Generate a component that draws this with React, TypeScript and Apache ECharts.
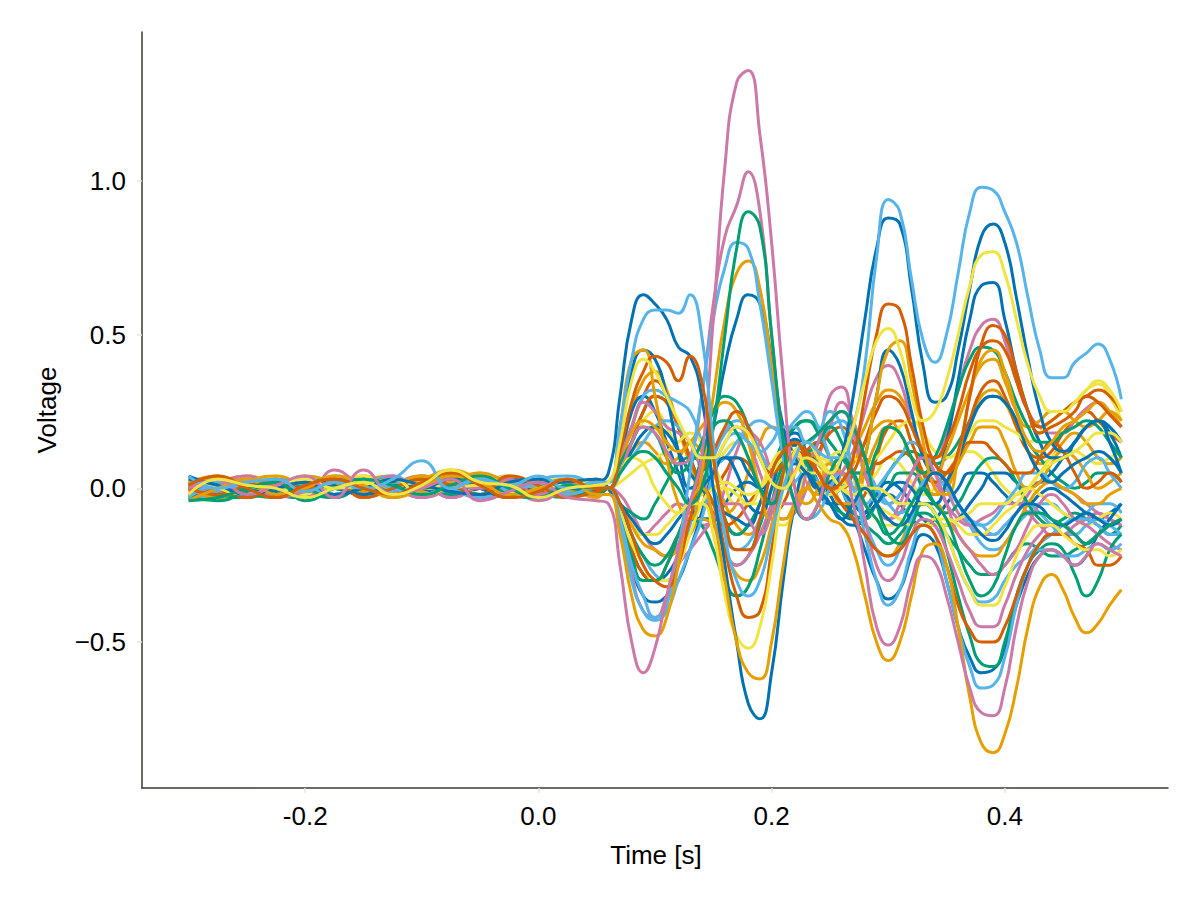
import React, { useEffect, useRef } from "react";
import * as echarts from "echarts";

// time grid (s)
const times = [
  -0.3, -0.275, -0.25, -0.225, -0.2, -0.175, -0.15, -0.125, -0.1, -0.075, -0.05, -0.025, 0.0, 0.025, 0.05,
  0.06, 0.07, 0.08, 0.09, 0.1, 0.11, 0.12, 0.13, 0.14, 0.15,
  0.16, 0.17, 0.18, 0.19, 0.2, 0.21, 0.22, 0.23, 0.24, 0.25,
  0.26, 0.27, 0.28, 0.29, 0.3, 0.31, 0.32, 0.33, 0.34, 0.35,
  0.36, 0.37, 0.38, 0.39, 0.4, 0.41, 0.42, 0.43, 0.44, 0.45,
  0.46, 0.47, 0.48, 0.49, 0.5,
];

const xTicks = [-0.2, 0.0, 0.2, 0.4];
const yTicks = [-0.5, 0.0, 0.5, 1.0];

// channel voltages
const blueA = [0.03, 0.01, -0.02, 0.0, 0.02, -0.02, 0.0, 0.03, 0.01, -0.01, -0.02, 0.02, 0.03, 0.0, 0.02,
  0.05, 0.3, 0.55, 0.63, 0.6, 0.55, 0.46, 0.43, 0.3, 0.0,
  -0.25, -0.5, -0.7, -0.75, -0.6, -0.3, -0.05, 0.05, 0.0, -0.05,
  -0.1, -0.05, 0.0, -0.05, -0.1, -0.12, -0.08, 0.0, 0.05, 0.02,
  -0.05, -0.1, -0.15, -0.17, -0.14, -0.08, -0.05, -0.06, -0.1, -0.12,
  -0.1, -0.08, -0.1, -0.12, -0.1];
const orangeA = [-0.04, 0.0, 0.03, -0.02, 0.0, 0.04, 0.01, -0.03, 0.0, 0.04, 0.02, -0.02, 0.0, 0.03, -0.02,
  -0.02, -0.15, -0.35, -0.46, -0.48, -0.42, -0.25, -0.05, 0.0, -0.1,
  -0.3, -0.5, -0.6, -0.62, -0.5, -0.25, -0.05, 0.0, -0.05, -0.1,
  -0.12, -0.2, -0.35, -0.5, -0.56, -0.5, -0.35, -0.2, -0.18, -0.25,
  -0.45, -0.68, -0.83, -0.86, -0.8, -0.65, -0.45, -0.32, -0.28, -0.33,
  -0.42, -0.47, -0.44, -0.38, -0.33];
const greenA = [-0.04, -0.03, 0.0, 0.02, -0.04, 0.0, 0.03, 0.01, -0.02, 0.01, 0.04, 0.0, -0.03, 0.01, 0.0,
  0.0, 0.05, 0.1, 0.12, 0.1, 0.05, 0.0, -0.05, 0.0, 0.2,
  0.5, 0.78, 0.9, 0.85, 0.5, 0.15, -0.05, -0.1, -0.05, 0.05,
  0.1, 0.05, -0.05, -0.1, -0.15, -0.12, -0.05, 0.0, -0.05, -0.1,
  -0.2, -0.3, -0.35, -0.32, -0.22, -0.12, -0.08, -0.08, -0.1, -0.12,
  -0.15, -0.18, -0.15, -0.12, -0.1];
const pinkA = [0.0, 0.03, -0.02, 0.01, 0.04, -0.03, 0.06, -0.02, 0.0, 0.03, -0.04, -0.01, 0.02, -0.03, -0.04,
  -0.05, -0.25, -0.5, -0.6, -0.52, -0.35, -0.2, -0.05, 0.1, 0.55,
  1.05, 1.32, 1.36, 1.15, 0.8, 0.35, 0.0, -0.1, -0.05, 0.05,
  0.05, -0.05, -0.25, -0.45, -0.51, -0.45, -0.3, -0.22, -0.24, -0.35,
  -0.5, -0.65, -0.73, -0.74, -0.65, -0.45, -0.3, -0.22, -0.2, -0.22,
  -0.25, -0.22, -0.18, -0.2, -0.22];
const lightBlueA = [0.04, 0.0, 0.02, 0.03, -0.01, 0.02, 0.0, 0.03, 0.09, 0.0, 0.03, 0.01, 0.04, 0.0, 0.02,
  0.02, 0.2, 0.42, 0.55, 0.58, 0.58, 0.57, 0.63, 0.5, 0.15,
  -0.15, -0.3, -0.35, -0.3, -0.15, 0.0, 0.1, 0.15, 0.12, 0.1,
  0.1, 0.2, 0.4, 0.75, 0.94, 0.9, 0.68, 0.48, 0.41, 0.5,
  0.7, 0.9, 0.98, 0.97, 0.9, 0.8, 0.62, 0.45, 0.36, 0.36,
  0.41, 0.44, 0.47, 0.42, 0.29];
const vermA = [0.01, 0.04, 0.0, -0.03, 0.01, 0.03, 0.0, -0.02, 0.02, 0.05, 0.01, -0.03, -0.01, 0.03, 0.0,
  0.0, 0.12, 0.28, 0.38, 0.43, 0.41, 0.35, 0.43, 0.35, 0.1,
  -0.1, -0.2, -0.2, -0.1, 0.05, 0.12, 0.15, 0.1, 0.05, 0.0,
  0.02, 0.1, 0.3, 0.5, 0.6, 0.58, 0.4, 0.2, 0.08, 0.05,
  0.12, 0.3, 0.47, 0.53, 0.5, 0.38, 0.25, 0.18, 0.2, 0.22,
  0.25, 0.3, 0.28, 0.24, 0.2];
const yellowA = [-0.02, 0.03, 0.01, 0.0, -0.03, 0.0, 0.02, -0.02, 0.01, 0.06, 0.02, 0.01, -0.03, 0.0, 0.01,
  0.02, 0.15, 0.35, 0.42, 0.38, 0.3, 0.22, 0.15, 0.1, 0.1,
  0.15, 0.2, 0.18, 0.1, 0.02, 0.0, 0.05, 0.1, 0.08, 0.05,
  0.1, 0.2, 0.35, 0.48, 0.52, 0.45, 0.3, 0.22, 0.25, 0.35,
  0.5, 0.66, 0.76, 0.77, 0.7, 0.55, 0.4, 0.3, 0.25, 0.25,
  0.28, 0.32, 0.35, 0.32, 0.25];

const blueB = [0.04, 0.01, 0.0, -0.03, 0.01, 0.0, -0.02, 0.01, 0.0, 0.03, 0.0, -0.03, 0.01, 0.02, 0.03,
  0.0, -0.05, -0.1, -0.15, -0.18, -0.15, -0.1, -0.05, 0.0, 0.05,
  0.1, 0.1, 0.05, 0.0, -0.05, 0.0, 0.08, 0.05, 0.0, 0.0,
  0.1, 0.3, 0.55, 0.78, 0.88, 0.86, 0.65, 0.4, 0.28, 0.3,
  0.45, 0.65, 0.82, 0.86, 0.8, 0.62, 0.42, 0.25, 0.15, 0.12,
  0.15, 0.2, 0.22, 0.15, 0.05];
const orangeB = [0.01, -0.03, 0.02, 0.04, 0.0, -0.02, 0.03, 0.0, 0.04, 0.01, 0.05, 0.02, 0.0, -0.02, 0.02,
  0.02, 0.2, 0.42, 0.45, 0.3, 0.1, -0.05, -0.1, 0.05, 0.3,
  0.55, 0.7, 0.74, 0.65, 0.4, 0.15, 0.0, -0.05, 0.0, 0.08,
  0.05, 0.0, 0.1, 0.3, 0.45, 0.48, 0.35, 0.15, 0.0, -0.02,
  0.1, 0.3, 0.42, 0.45, 0.38, 0.25, 0.15, 0.12, 0.15, 0.2,
  0.22, 0.25, 0.28, 0.25, 0.2];
const greenB = [-0.03, -0.04, -0.01, 0.02, 0.0, -0.03, 0.01, 0.03, -0.02, 0.0, 0.02, -0.02, -0.03, 0.0, -0.02,
  0.0, -0.1, -0.22, -0.3, -0.3, -0.25, -0.15, -0.05, 0.1, 0.2,
  0.22, 0.18, 0.1, 0.0, -0.05, 0.05, 0.12, 0.15, 0.18, 0.22,
  0.25, 0.2, 0.1, -0.05, -0.15, -0.18, -0.12, -0.05, -0.08, -0.2,
  -0.35, -0.48, -0.57, -0.58, -0.5, -0.35, -0.25, -0.2, -0.18, -0.2,
  -0.28, -0.35, -0.3, -0.2, -0.15];
const pinkB = [0.01, 0.0, 0.03, -0.03, -0.01, 0.02, 0.0, 0.04, -0.03, 0.01, 0.0, 0.03, -0.02, 0.01, 0.0,
  0.0, 0.05, 0.15, 0.2, 0.18, 0.12, 0.08, 0.1, 0.3, 0.6,
  0.82, 0.92, 1.03, 0.9, 0.5, 0.15, -0.05, -0.1, -0.05, 0.05,
  0.1, 0.05, -0.1, -0.25, -0.3, -0.25, -0.15, -0.1, -0.12, -0.2,
  -0.3, -0.4, -0.45, -0.45, -0.38, -0.28, -0.2, -0.15, -0.12, -0.12,
  -0.15, -0.18, -0.15, -0.12, -0.1];
const lightBlueB = [-0.03, 0.01, 0.0, 0.03, 0.01, -0.02, 0.03, 0.0, -0.02, 0.01, 0.03, 0.0, 0.01, -0.02, 0.0,
  0.0, -0.1, -0.25, -0.35, -0.42, -0.38, -0.2, 0.05, 0.3, 0.55,
  0.72, 0.8, 0.78, 0.6, 0.35, 0.1, -0.05, -0.1, -0.08, 0.0,
  0.05, 0.0, -0.15, -0.3, -0.38, -0.33, -0.2, -0.12, -0.15, -0.3,
  -0.45, -0.58, -0.65, -0.64, -0.55, -0.38, -0.25, -0.2, -0.2, -0.22,
  -0.22, -0.2, -0.18, -0.2, -0.18];
const vermB = [0.0, -0.02, 0.01, 0.03, 0.0, 0.02, -0.03, 0.0, 0.03, 0.01, -0.02, 0.04, 0.01, -0.03, -0.01,
  0.0, -0.05, -0.15, -0.25, -0.3, -0.32, -0.25, -0.1, 0.0, -0.05,
  -0.2, -0.35, -0.42, -0.4, -0.2, 0.05, 0.15, 0.12, 0.05, 0.0,
  -0.05, -0.1, -0.15, -0.2, -0.22, -0.2, -0.15, -0.12, -0.15, -0.25,
  -0.38, -0.46, -0.5, -0.5, -0.45, -0.35, -0.25, -0.18, -0.15, -0.15,
  -0.18, -0.2, -0.25, -0.25, -0.22];
const yellowB = [0.03, 0.0, -0.02, 0.01, 0.03, 0.0, 0.01, 0.03, -0.02, 0.0, 0.01, -0.03, 0.0, 0.01, 0.0,
  0.0, 0.05, 0.1, 0.08, 0.0, -0.05, -0.08, -0.05, -0.05, -0.15,
  -0.35, -0.48, -0.52, -0.45, -0.25, 0.0, 0.12, 0.15, 0.1, 0.05,
  0.0, -0.02, 0.0, 0.0, -0.02, -0.05, -0.05, -0.05, -0.08, -0.15,
  -0.25, -0.33, -0.38, -0.38, -0.32, -0.22, -0.15, -0.12, -0.12, -0.15,
  -0.18, -0.2, -0.2, -0.22, -0.2];

const blueC = [0.0, 0.03, 0.01, -0.02, 0.0, 0.03, 0.01, 0.0, -0.03, 0.01, 0.0, 0.03, 0.0, -0.02, 0.01,
  0.0, 0.15, 0.38, 0.45, 0.42, 0.3, 0.12, 0.0, 0.05, 0.2,
  0.4, 0.55, 0.63, 0.6, 0.42, 0.2, 0.1, 0.05, 0.0, 0.02,
  0.05, 0.0, 0.1, 0.3, 0.45, 0.4, 0.25, 0.1, 0.05, 0.15,
  0.35, 0.55, 0.66, 0.67, 0.55, 0.38, 0.25, 0.15, 0.1, 0.1,
  0.15, 0.2, 0.22, 0.18, 0.1];
const orangeC = [0.02, 0.04, 0.0, 0.01, 0.04, 0.02, -0.01, 0.01, 0.03, 0.06, 0.03, 0.0, 0.02, 0.01, 0.01,
  0.0, 0.08, 0.18, 0.22, 0.2, 0.15, 0.12, 0.15, 0.2, 0.25,
  0.28, 0.25, 0.15, 0.0, -0.1, -0.1, -0.05, 0.0, 0.02, 0.0,
  -0.05, -0.05, 0.05, 0.15, 0.2, 0.18, 0.1, 0.05, 0.05, 0.12,
  0.22, 0.32, 0.4, 0.42, 0.35, 0.25, 0.2, 0.22, 0.25, 0.25,
  0.22, 0.2, 0.22, 0.25, 0.22];
const greenC = [0.01, -0.02, -0.03, 0.0, 0.02, 0.03, 0.0, -0.02, 0.01, 0.04, 0.0, 0.01, 0.03, 0.0, 0.01,
  0.0, 0.08, 0.15, 0.2, 0.18, 0.1, 0.05, 0.08, 0.15, 0.25,
  0.3, 0.28, 0.2, 0.1, 0.05, 0.1, 0.15, 0.12, 0.15, 0.2,
  0.15, 0.05, 0.05, 0.12, 0.2, 0.18, 0.1, 0.05, 0.1, 0.2,
  0.32, 0.42, 0.46, 0.45, 0.38, 0.28, 0.2, 0.15, 0.15, 0.18,
  0.2, 0.22, 0.2, 0.15, 0.1];
const pinkC = [-0.02, 0.01, 0.04, 0.0, -0.03, 0.06, 0.01, 0.0, -0.03, 0.0, 0.03, 0.01, -0.04, 0.0, 0.02,
  0.0, -0.1, -0.28, -0.4, -0.42, -0.35, -0.25, -0.2, -0.15, -0.1,
  -0.05, -0.05, -0.1, -0.15, -0.08, 0.05, 0.12, 0.1, 0.15, 0.3,
  0.33, 0.2, 0.05, -0.05, -0.1, -0.05, 0.05, 0.1, 0.05, -0.05,
  -0.15, -0.2, -0.25, -0.28, -0.25, -0.2, -0.12, -0.05, -0.02, -0.05,
  -0.1, -0.12, -0.15, -0.18, -0.2];
const lightBlueC = [-0.04, -0.01, 0.02, 0.0, 0.03, -0.02, 0.0, 0.01, 0.03, 0.0, -0.03, 0.0, 0.01, 0.03, 0.01,
  0.0, -0.12, -0.3, -0.4, -0.43, -0.4, -0.3, -0.2, -0.1, 0.05,
  0.15, 0.18, 0.15, 0.12, 0.15, 0.2, 0.2, 0.15, 0.18, 0.25,
  0.2, 0.05, -0.1, -0.2, -0.25, -0.2, -0.1, -0.05, -0.08, -0.15,
  -0.25, -0.33, -0.37, -0.36, -0.3, -0.25, -0.22, -0.18, -0.15, -0.12,
  -0.1, -0.1, -0.12, -0.15, -0.15];
const vermC = [0.03, 0.0, -0.03, 0.01, 0.0, 0.04, 0.01, -0.02, 0.0, 0.03, 0.0, 0.01, -0.02, 0.0, 0.03,
  0.0, -0.08, -0.2, -0.28, -0.3, -0.25, -0.15, -0.05, 0.05, 0.12,
  0.2, 0.25, 0.2, 0.1, 0.05, 0.08, 0.12, 0.1, 0.05, 0.0,
  0.0, 0.05, 0.15, 0.25, 0.3, 0.28, 0.2, 0.12, 0.1, 0.15,
  0.25, 0.38, 0.46, 0.48, 0.45, 0.35, 0.25, 0.2, 0.22, 0.25,
  0.28, 0.3, 0.32, 0.3, 0.25];
const yellowC = [0.01, 0.03, 0.0, 0.04, 0.01, 0.0, 0.03, 0.01, 0.0, 0.01, 0.04, 0.02, 0.0, 0.03, 0.01,
  0.0, -0.08, -0.18, -0.25, -0.3, -0.3, -0.25, -0.15, -0.05, 0.0,
  0.02, 0.0, -0.02, 0.0, 0.05, 0.1, 0.12, 0.05, 0.0, -0.02,
  0.0, 0.02, 0.0, -0.05, -0.08, -0.1, -0.12, -0.12, -0.1, -0.1,
  -0.12, -0.15, -0.15, -0.12, -0.08, -0.05, 0.0, 0.05, 0.08, 0.1,
  0.12, 0.15, 0.18, 0.18, 0.15];

const blueD = [-0.02, 0.0, 0.03, 0.01, -0.02, 0.0, 0.02, -0.03, 0.0, 0.01, -0.02, 0.0, 0.03, 0.01, 0.0,
  0.0, -0.1, -0.25, -0.35, -0.37, -0.35, -0.3, -0.2, -0.08, 0.05,
  0.1, 0.05, -0.05, -0.08, 0.0, 0.12, 0.16, 0.1, 0.0, -0.05,
  -0.05, -0.1, -0.2, -0.3, -0.36, -0.33, -0.22, -0.15, -0.18, -0.3,
  -0.45, -0.55, -0.6, -0.59, -0.52, -0.38, -0.28, -0.22, -0.2, -0.22,
  -0.25, -0.22, -0.15, -0.1, -0.05];
const orangeD = [-0.02, -0.03, 0.01, 0.0, -0.02, 0.03, 0.0, 0.01, 0.04, 0.02, 0.0, -0.03, 0.01, 0.0, -0.03,
  0.0, -0.05, -0.12, -0.18, -0.2, -0.22, -0.2, -0.15, -0.1, -0.12,
  -0.2, -0.28, -0.3, -0.25, -0.12, 0.02, 0.1, 0.12, 0.08, 0.02,
  -0.05, -0.1, -0.15, -0.2, -0.22, -0.18, -0.1, -0.05, -0.05, -0.1,
  -0.15, -0.2, -0.22, -0.22, -0.18, -0.12, -0.05, 0.0, 0.02, 0.0,
  -0.02, -0.05, -0.05, -0.02, 0.0];
const greenD = [-0.03, 0.0, -0.02, -0.03, 0.01, 0.0, -0.02, 0.0, 0.02, -0.02, 0.03, 0.0, -0.02, -0.03, 0.0,
  0.0, -0.05, -0.15, -0.22, -0.25, -0.22, -0.15, -0.1, -0.12, -0.2,
  -0.3, -0.35, -0.32, -0.2, -0.05, 0.08, 0.12, 0.08, 0.0, -0.05,
  -0.08, -0.1, -0.12, -0.15, -0.18, -0.15, -0.1, -0.08, -0.1, -0.15,
  -0.2, -0.25, -0.28, -0.28, -0.25, -0.2, -0.18, -0.2, -0.22, -0.22,
  -0.2, -0.18, -0.15, -0.12, -0.1];
const pinkD = [0.0, -0.03, 0.0, 0.03, 0.01, -0.02, 0.03, 0.0, 0.01, -0.03, 0.01, 0.04, 0.0, 0.01, 0.02,
  0.0, 0.1, 0.2, 0.28, 0.25, 0.2, 0.18, 0.15, 0.05, -0.1,
  -0.2, -0.25, -0.22, -0.15, -0.05, 0.05, 0.1, 0.05, 0.0, 0.0,
  0.05, 0.12, 0.25, 0.36, 0.4, 0.35, 0.22, 0.12, 0.1, 0.18,
  0.32, 0.45, 0.53, 0.55, 0.48, 0.35, 0.25, 0.2, 0.18, 0.18,
  0.22, 0.26, 0.28, 0.25, 0.2];
const lightBlueD = [0.01, 0.0, 0.03, 0.01, 0.0, -0.02, 0.01, 0.04, 0.0, 0.03, 0.01, 0.0, 0.03, 0.04, 0.01,
  0.0, 0.05, 0.1, 0.15, 0.2, 0.22, 0.2, 0.15, 0.1, 0.08,
  0.1, 0.15, 0.2, 0.22, 0.2, 0.18, 0.22, 0.25, 0.2, 0.1,
  0.0, -0.05, -0.05, 0.0, 0.05, 0.1, 0.15, 0.12, 0.05, 0.0,
  -0.05, -0.1, -0.12, -0.15, -0.12, -0.08, -0.05, -0.08, -0.12, -0.15,
  -0.15, -0.12, -0.1, -0.12, -0.15];
const yellowD = [0.0, 0.01, 0.04, 0.01, -0.02, 0.02, 0.04, 0.0, 0.02, 0.0, 0.01, 0.04, 0.02, 0.0, 0.02,
  0.0, 0.02, 0.05, 0.08, 0.1, 0.12, 0.15, 0.18, 0.15, 0.08,
  0.0, -0.05, -0.05, 0.0, 0.08, 0.12, 0.1, 0.05, 0.05, 0.1,
  0.12, 0.1, 0.08, 0.1, 0.15, 0.2, 0.22, 0.18, 0.12, 0.1,
  0.12, 0.18, 0.22, 0.22, 0.2, 0.18, 0.15, 0.18, 0.22, 0.25,
  0.28, 0.32, 0.34, 0.3, 0.22];
const blueE = [0.01, 0.03, 0.0, 0.01, -0.01, 0.01, 0.03, 0.0, 0.01, -0.01, 0.01, 0.0, 0.01, 0.03, 0.01,
  0.0, 0.05, 0.12, 0.18, 0.2, 0.18, 0.12, 0.05, 0.0, -0.05,
  -0.08, -0.1, -0.12, -0.05, 0.05, 0.12, 0.15, 0.12, 0.08, 0.05,
  0.0, -0.05, -0.08, -0.05, 0.0, 0.02, 0.0, -0.05, -0.05, 0.02,
  0.1, 0.2, 0.28, 0.3, 0.28, 0.22, 0.12, 0.05, 0.02, 0.05,
  0.08, 0.1, 0.12, 0.1, 0.05];

const blueF = [0.0, -0.02, 0.0, 0.02, -0.02, 0.0, 0.0, 0.02, 0.0, -0.02, 0.0, 0.02, 0.0, 0.0, 0.01,
  0.0, 0.1, 0.25, 0.3, 0.25, 0.15, 0.05, -0.05, -0.1, -0.1,
  -0.05, 0.0, 0.02, 0.0, 0.05, 0.15, 0.18, 0.12, 0.05, -0.02,
  -0.08, -0.1, -0.08, -0.02, 0.02, 0.0, -0.05, -0.1, -0.12, -0.12,
  -0.1, -0.05, 0.0, 0.05, 0.05, 0.02, 0.0, 0.02, 0.05, 0.1,
  0.15, 0.2, 0.22, 0.2, 0.15];
const orangeE = [0.04, 0.01, 0.03, 0.0, 0.03, 0.01, 0.04, 0.01, 0.0, 0.05, 0.01, 0.03, 0.0, 0.03, 0.01,
  0.0, 0.05, 0.12, 0.15, 0.12, 0.08, 0.1, 0.15, 0.12, 0.05,
  -0.05, -0.12, -0.15, -0.1, 0.0, 0.1, 0.15, 0.12, 0.05, 0.0,
  0.02, 0.08, 0.15, 0.2, 0.22, 0.18, 0.1, 0.02, -0.02, 0.0,
  0.08, 0.15, 0.2, 0.2, 0.15, 0.05, 0.0, 0.02, 0.08, 0.12,
  0.1, 0.05, 0.0, 0.02, 0.05];
const greenE = [-0.03, -0.01, 0.02, -0.02, -0.03, 0.01, 0.0, 0.03, 0.0, 0.01, 0.0, -0.03, 0.0, 0.01, -0.02,
  0.0, -0.05, -0.08, -0.1, -0.05, 0.02, 0.08, 0.1, 0.08, 0.0,
  -0.1, -0.15, -0.12, -0.05, 0.05, 0.15, 0.2, 0.22, 0.18, 0.1,
  0.0, -0.08, -0.1, -0.05, 0.0, 0.05, 0.05, 0.0, -0.05, -0.08,
  -0.05, 0.02, 0.08, 0.1, 0.08, 0.02, -0.05, -0.1, -0.12, -0.1,
  -0.08, -0.1, -0.12, -0.15, -0.12];
const pinkE = [0.03, 0.0, -0.03, 0.01, 0.0, 0.03, -0.03, 0.01, 0.04, 0.0, -0.03, 0.0, 0.03, 0.0, -0.02,
  0.0, -0.05, -0.12, -0.15, -0.12, -0.08, -0.05, -0.08, -0.12, -0.1,
  0.0, 0.12, 0.18, 0.15, 0.05, -0.05, -0.05, 0.05, 0.15, 0.22,
  0.25, 0.18, 0.05, -0.05, -0.1, -0.08, 0.0, 0.05, 0.02, -0.05,
  -0.1, -0.12, -0.1, -0.08, -0.05, -0.05, -0.08, -0.12, -0.15, -0.15,
  -0.12, -0.1, -0.08, -0.1, -0.12];
const lightBlueE = [0.0, 0.02, -0.02, 0.0, 0.03, 0.0, 0.01, 0.0, 0.04, 0.01, 0.0, 0.03, 0.01, 0.0, 0.03,
  0.0, 0.08, 0.2, 0.3, 0.32, 0.3, 0.28, 0.25, 0.15, 0.0,
  -0.15, -0.2, -0.18, -0.1, 0.0, 0.1, 0.12, 0.08, 0.02, -0.02,
  0.0, 0.05, 0.05, 0.0, -0.05, -0.08, -0.05, 0.02, 0.05, 0.02,
  -0.05, -0.1, -0.12, -0.1, -0.05, 0.0, 0.05, 0.05, 0.02, 0.0,
  0.02, 0.08, 0.1, 0.05, 0.0];
const vermD = [0.02, -0.02, 0.01, 0.03, -0.02, 0.0, 0.02, 0.03, 0.0, 0.01, -0.03, 0.01, 0.0, 0.02, 0.0,
  0.0, 0.05, 0.15, 0.25, 0.3, 0.28, 0.2, 0.1, 0.0, -0.08,
  -0.12, -0.1, -0.05, 0.0, 0.05, 0.1, 0.1, 0.08, 0.12, 0.18,
  0.2, 0.15, 0.1, 0.08, 0.1, 0.12, 0.1, 0.05, 0.02, 0.05,
  0.1, 0.15, 0.15, 0.12, 0.08, 0.05, 0.05, 0.1, 0.15, 0.12,
  0.05, 0.0, 0.02, 0.05, 0.02];
const yellowE = [0.02, 0.0, 0.03, -0.02, 0.0, 0.01, -0.02, 0.0, 0.03, 0.04, -0.02, 0.0, 0.02, -0.02, 0.0,
  0.0, -0.05, -0.12, -0.15, -0.15, -0.12, -0.08, -0.05, -0.02, 0.0,
  0.0, -0.02, -0.05, -0.05, 0.0, 0.08, 0.1, 0.05, 0.0, 0.0,
  0.02, 0.0, -0.05, -0.1, -0.12, -0.12, -0.12, -0.12, -0.12, -0.12,
  -0.1, -0.08, -0.05, -0.05, -0.05, -0.02, 0.0, -0.02, -0.05, -0.08,
  -0.1, -0.12, -0.1, -0.08, -0.1];

const blueG = [-0.03, 0.0, 0.02, -0.01, 0.01, 0.03, -0.02, 0.0, 0.01, -0.03, 0.02, 0.0, -0.02, 0.02, -0.01,
  0.0, -0.08, -0.2, -0.28, -0.3, -0.28, -0.22, -0.15, -0.1, -0.1,
  -0.12, -0.15, -0.12, -0.05, 0.05, 0.12, 0.14, 0.1, 0.02, -0.05,
  -0.1, -0.12, -0.1, -0.05, -0.02, -0.05, -0.1, -0.12, -0.1, -0.05,
  0.0, 0.05, 0.05, 0.02, -0.02, -0.05, -0.05, -0.02, 0.0, -0.02,
  -0.05, -0.08, -0.1, -0.08, -0.05];
const orangeG = [0.01, 0.04, -0.01, 0.02, 0.0, -0.03, 0.02, 0.04, -0.01, 0.02, 0.05, 0.0, 0.02, -0.02, 0.01,
  0.0, 0.1, 0.25, 0.35, 0.38, 0.32, 0.2, 0.08, 0.0, -0.05,
  -0.08, -0.05, 0.05, 0.15, 0.2, 0.18, 0.1, 0.02, -0.02, 0.0,
  0.05, 0.12, 0.2, 0.28, 0.32, 0.3, 0.22, 0.12, 0.05, 0.05,
  0.12, 0.22, 0.3, 0.32, 0.28, 0.2, 0.12, 0.08, 0.1, 0.15,
  0.18, 0.15, 0.1, 0.08, 0.1];
const greenG = [0.02, -0.02, 0.0, 0.03, -0.01, -0.03, 0.01, 0.0, 0.03, 0.01, -0.02, 0.02, 0.0, -0.01, 0.02,
  0.0, 0.05, 0.15, 0.25, 0.3, 0.28, 0.2, 0.1, 0.0, -0.1,
  -0.2, -0.25, -0.22, -0.12, 0.0, 0.12, 0.2, 0.22, 0.2, 0.15,
  0.1, 0.05, 0.0, 0.0, 0.05, 0.1, 0.12, 0.1, 0.08, 0.1,
  0.15, 0.22, 0.28, 0.3, 0.28, 0.22, 0.15, 0.1, 0.05, 0.02,
  0.0, 0.02, 0.05, 0.05, 0.02];
const pinkG = [-0.02, 0.02, 0.0, -0.03, 0.02, 0.01, -0.01, 0.03, -0.02, 0.0, 0.01, -0.03, 0.02, 0.0, -0.02,
  0.0, -0.02, -0.08, -0.15, -0.2, -0.22, -0.18, -0.1, 0.0, 0.1,
  0.18, 0.2, 0.15, 0.05, -0.05, -0.1, -0.08, 0.0, 0.1, 0.2,
  0.28, 0.22, 0.1, 0.0, -0.05, -0.02, 0.05, 0.1, 0.08, 0.0,
  -0.08, -0.12, -0.15, -0.15, -0.12, -0.08, -0.02, 0.02, 0.02, 0.0,
  -0.02, -0.05, -0.08, -0.1, -0.12];
const lightBlueG = [0.02, -0.01, 0.03, 0.01, -0.02, 0.0, 0.03, -0.01, 0.01, 0.02, -0.02, 0.01, 0.03, -0.01, 0.0,
  0.0, -0.05, -0.15, -0.22, -0.28, -0.3, -0.25, -0.12, 0.0, 0.1,
  0.18, 0.22, 0.2, 0.12, 0.05, 0.0, 0.02, 0.08, 0.15, 0.2,
  0.22, 0.15, 0.05, -0.02, -0.05, -0.02, 0.05, 0.1, 0.08, 0.02,
  -0.05, -0.12, -0.18, -0.2, -0.18, -0.12, -0.08, -0.05, -0.05, -0.08,
  -0.1, -0.08, -0.05, -0.05, -0.08];
const vermG = [-0.01, 0.02, 0.04, 0.0, -0.02, 0.01, 0.03, 0.0, -0.02, 0.03, 0.04, 0.0, -0.01, 0.02, 0.01,
  0.0, 0.08, 0.2, 0.3, 0.35, 0.3, 0.2, 0.1, 0.02, 0.0,
  0.05, 0.1, 0.08, 0.0, -0.08, -0.05, 0.05, 0.12, 0.15, 0.1,
  0.02, -0.05, -0.02, 0.1, 0.2, 0.22, 0.15, 0.05, -0.02, 0.0,
  0.1, 0.22, 0.32, 0.35, 0.3, 0.2, 0.12, 0.1, 0.12, 0.18,
  0.22, 0.25, 0.22, 0.18, 0.15];
const yellowG = [0.0, -0.02, 0.02, 0.03, 0.0, -0.02, 0.01, 0.02, 0.04, 0.02, 0.0, -0.01, 0.02, 0.03, 0.0,
  0.0, 0.05, 0.15, 0.22, 0.25, 0.2, 0.12, 0.05, 0.0, 0.05,
  0.12, 0.15, 0.1, 0.0, -0.1, -0.12, -0.05, 0.05, 0.1, 0.08,
  0.02, -0.02, 0.0, 0.05, 0.1, 0.08, 0.02, -0.02, 0.0, 0.05,
  0.1, 0.12, 0.1, 0.05, 0.0, -0.02, 0.0, 0.05, 0.1, 0.12,
  0.12, 0.1, 0.08, 0.1, 0.12];

const BLUE = "#0072B2";
const ORANGE = "#E69F00";
const GREEN = "#009E73";
const PINK = "#CC79A7";
const LIGHTBLUE = "#56B4E9";
const VERM = "#D55E00";
const YELLOW = "#F0E442";

const channels: [number[], string][] = [
  [blueG, BLUE], [orangeG, ORANGE], [greenG, GREEN], [pinkG, PINK], [lightBlueG, LIGHTBLUE], [vermG, VERM], [yellowG, YELLOW],
  [blueF, BLUE], [orangeE, ORANGE], [greenE, GREEN], [pinkE, PINK], [lightBlueE, LIGHTBLUE], [vermD, VERM], [yellowE, YELLOW],
  [blueD, BLUE], [orangeD, ORANGE], [greenD, GREEN], [pinkD, PINK], [lightBlueD, LIGHTBLUE], [yellowD, YELLOW], [blueE, BLUE],
  [blueC, BLUE], [orangeC, ORANGE], [greenC, GREEN], [pinkC, PINK], [lightBlueC, LIGHTBLUE], [vermC, VERM], [yellowC, YELLOW],
  [blueB, BLUE], [orangeB, ORANGE], [greenB, GREEN], [pinkB, PINK], [lightBlueB, LIGHTBLUE], [vermB, VERM], [yellowB, YELLOW],
  [blueA, BLUE], [orangeA, ORANGE], [greenA, GREEN], [pinkA, PINK], [lightBlueA, LIGHTBLUE], [vermA, VERM], [yellowA, YELLOW],
];

const FONT = "'Liberation Sans', Arial, Helvetica, sans-serif";
const AXIS_COLOR = "#3d3832";
const TICK_COLOR = "#ece3da";

export default function App() {
  const ref = useRef<HTMLDivElement>(null);

  useEffect(() => {
    if (!ref.current) return;
    const chart = echarts.init(ref.current, undefined, { renderer: "svg" });
    const series = channels.map(([vals, color], k) => ({
      type: "line",
      name: "ch" + k,
      data: times.map((t, i) => [t, vals[i]]),
      showSymbol: false,
      smooth: 0.5,
      lineStyle: { color, width: 3 },
      itemStyle: { color },
      silent: true,
    }));
    chart.setOption({
      animation: false,
      backgroundColor: "#ffffff",
      grid: { left: 142, right: 32, top: 32, bottom: 112, containLabel: false },
      xAxis: {
        type: "value",
        min: -0.34,
        max: 0.54,
        axisLine: { show: true, onZero: false, lineStyle: { color: AXIS_COLOR, width: 1.5 } },
        axisTick: { show: true, customValues: xTicks, length: 5, lineStyle: { color: TICK_COLOR, width: 1.5 } },
        axisLabel: {
          customValues: xTicks,
          formatter: (v: number) => v.toFixed(1),
          fontSize: 26,
          fontFamily: FONT,
          color: "#000",
          margin: 15,
        },
        splitLine: { show: false },
      },
      yAxis: {
        type: "value",
        min: -0.975,
        max: 1.485,
        axisLine: { show: true, onZero: false, lineStyle: { color: AXIS_COLOR, width: 1.5 } },
        axisTick: { show: true, customValues: yTicks, length: 5, lineStyle: { color: TICK_COLOR, width: 1.5 } },
        axisLabel: {
          customValues: yTicks,
          formatter: (v: number) => (v < 0 ? "\u2212" + Math.abs(v).toFixed(1) : v.toFixed(1)),
          fontSize: 26,
          fontFamily: FONT,
          color: "#000",
          margin: 16,
        },
        splitLine: { show: false },
      },
      graphic: [
        {
          type: "text",
          x: 656,
          y: 855,
          style: { text: "Time [s]", fontSize: 26, fontFamily: FONT, fill: "#000", align: "center", verticalAlign: "middle" },
        },
        {
          type: "text",
          x: 47,
          y: 410,
          rotation: Math.PI / 2,
          style: { text: "Voltage", fontSize: 26, fontFamily: FONT, fill: "#000", align: "center", verticalAlign: "middle" },
        },
      ],
      series,
    });
    return () => chart.dispose();
  }, []);

  return (
    <div
      ref={ref}
      style={{ position: "fixed", left: 0, top: 0, width: 1200, height: 900, background: "#fff" }}
    />
  );
}
